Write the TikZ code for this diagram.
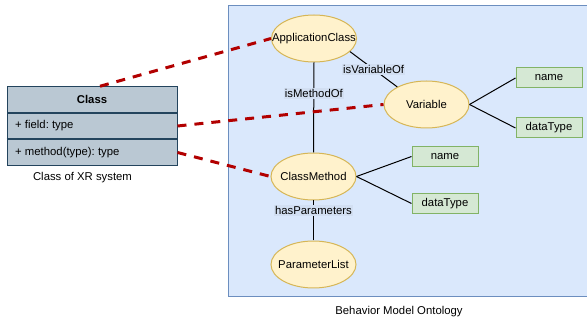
\documentclass[tikz,border=0pt]{standalone}
\usepackage{fontspec}
\setmainfont{Liberation Sans}
\usetikzlibrary{shapes.geometric,calc}

\definecolor{panelfill}{HTML}{DAE8FC}
\definecolor{panelline}{HTML}{6C8EBF}
\definecolor{labelbg}{HTML}{D2DFF2}
\definecolor{ovalfill}{HTML}{FFF2CC}
\definecolor{ovalline}{HTML}{D6B656}
\definecolor{leaffill}{HTML}{D5E8D4}
\definecolor{leafline}{HTML}{82B366}
\definecolor{classfill}{HTML}{BAC8D3}
\definecolor{classline}{HTML}{23445D}
\definecolor{mapline}{HTML}{B20000}

\def\px{0.75pt}
\frenchspacing

\tikzset{
  every node/.style={font=\fontsize{8.5pt}{10pt}\selectfont, text=black},
  % fixed-size ovals: long names may run onto the outline
  concept/.style={ellipse, draw=ovalline, fill=ovalfill, line width=\px,
    minimum width=85*\px, minimum height=47*\px, inner xsep=-14pt, inner ysep=-5pt},
  leaf/.style={rectangle, draw=leafline, fill=leaffill, line width=\px,
    minimum width=66*\px, minimum height=20*\px, inner sep=0pt},
  classrow/.style={rectangle, draw=classline, fill=classfill, line width=\px,
    minimum width=170*\px, minimum height=25.5*\px, inner sep=0pt},
  rel/.style={draw=black, line width=\px},
  rellabel/.style={fill=labelbg, inner sep=1pt},
  mapping/.style={draw=mapline, line width=3*\px, dash pattern=on 9*\px off 8*\px},
}

\begin{document}
\begin{tikzpicture}[x=\px, y=-\px]
\useasboundingbox (0,0) rectangle (587,320);

% ontology panel (runs past the right edge)
\fill[panelfill] (228,5.5) rectangle (600,297);
\draw[panelline, line width=\px] (600,5.5) -- (228,5.5) -- (228,297) -- (600,297);

% UML class of the XR system
\node[classrow, font=\fontsize{8.5pt}{10pt}\selectfont\bfseries] (cls) at (92,99.5) {Class};
\node[classrow, anchor=north] (fld) at (cls.south) {};
\node[classrow, anchor=north] (mth) at (fld.south) {};
\draw[classline, line width=1.6*\px] (fld.south west) -- (fld.south east);
\node[anchor=west] (fldtext) at ([xshift=4*\px]fld.west) {+ field: type};
\node[anchor=west] (mthtext) at ([xshift=4*\px]mth.west) {+ method(type): type};
\node (clscap) at (82.5,178) {Class of XR system};

% ontology concepts
\node[concept] (ac)  at (314,38.5)   {ApplicationClass};
\node[concept] (var) at (426.5,104.5) {Variable};
\node[concept] (cm)  at (313.5,176.5) {ClassMethod};
\node[concept] (pl)  at (313.5,264.5) {ParameterList};

\node[leaf] (vname) at (549,78)  {name};
\node[leaf] (vtype) at (549,128) {dataType};
\node[leaf] (mname) at (445,156.5) {name};
\node[leaf] (mtype) at (445,203.5) {dataType};

\node (ontcap) at (399,312) {Behavior Model Ontology};

% relations
\draw[rel] (ac.-20) -- node[rellabel, pos=0.5] {isVariableOf} (var.149);
\draw[rel] (ac.south) -- node[rellabel, pos=0.34] {isMethodOf} (cm.north);
\draw[rel] (cm.south) -- node[rellabel, pos=0.24] {hasParameters} (pl.north);
\draw[rel] (var.east) -- (vname.west);
\draw[rel] (var.east) -- (vtype.west);
\draw[rel] (cm.east) -- (mname.west);
\draw[rel] (cm.east) -- (mtype.west);

% mappings from the class to the ontology
\draw[mapping] ($(cls.north)+(8,0)$) -- (ac.west);
\draw[mapping] (fld.east) -- (var.west);
\draw[mapping] (mth.east) -- (cm.west);
\end{tikzpicture}
\end{document}
